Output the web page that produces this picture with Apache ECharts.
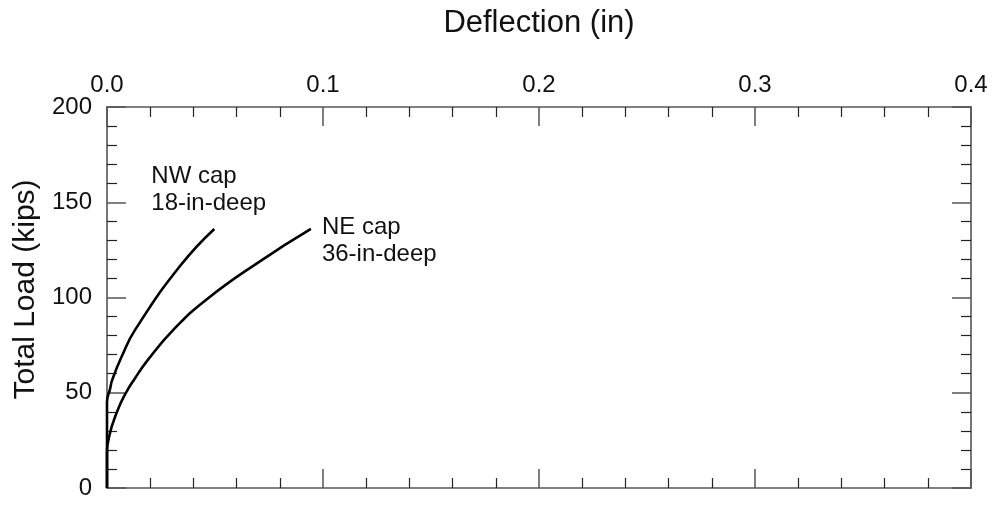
<!DOCTYPE html>
<html>
<head>
<meta charset="utf-8">
<script src="https://cdn.jsdelivr.net/npm/echarts@6/dist/echarts.min.js"></script>
<style>
  html, body { margin: 0; padding: 0; background: #fff; }
  #chart { width: 993px; height: 505px; }
</style>
</head>
<body>
<div id="chart"></div>
<script>
// Load–deflection curves for the two pile caps
const nwDeflection = [0, 0, 0.0014, 0.0025, 0.0068, 0.013, 0.0338, 0.0497];
const nwLoad       = [0, 45, 52, 57, 69, 83, 116.5, 136];
const neDeflection = [0, 0, 0.001, 0.005, 0.0088, 0.0126, 0.0191, 0.0307, 0.0461, 0.0708, 0.0944];
const neLoad       = [0, 16, 27, 41, 50, 57, 67.5, 83, 99, 119, 136];

const xTickLabels = ['0.0', '0.1', '0.2', '0.3', '0.4'];
const yTickLabels = ['0', '50', '100', '150', '200'];

const nwText = ['NW cap', '18-in-deep'];
const neText = ['NE cap', '36-in-deep'];

const FONT = '"Liberation Sans", Arial, Helvetica, sans-serif';
const AXIS_COLOR = '#555';

const toPairs = (xs, ys) => xs.map((x, i) => [x, ys[i]]);

function xAxisCfg(position, withLabels) {
  return {
    type: 'value',
    position: position,
    min: 0, max: 0.4, interval: 0.1,
    name: withLabels ? 'Deflection (in)' : '',
    nameLocation: 'middle',
    nameGap: 68,
    nameTextStyle: { fontFamily: FONT, fontSize: 31, color: '#111' },
    axisLine: { show: true, onZero: false, lineStyle: { color: AXIS_COLOR, width: 1.6 } },
    axisTick: { show: true, inside: true, length: 19, lineStyle: { color: AXIS_COLOR, width: 1.5 } },
    minorTick: { show: true, splitNumber: 5, length: 10, lineStyle: { color: '#222', width: 1.2 } },
    splitLine: { show: false },
    axisLabel: {
      show: withLabels,
      margin: 10,
      fontFamily: FONT, fontSize: 24, color: '#111',
      formatter: v => xTickLabels[Math.round(v * 10)]
    }
  };
}

function yAxisCfg(position, withLabels) {
  return {
    type: 'value',
    position: position,
    min: 0, max: 200, interval: 50,
    name: withLabels ? 'Total Load (kips)' : '',
    nameLocation: 'middle',
    nameGap: 66,
    nameTextStyle: { fontFamily: FONT, fontSize: 30, color: '#111', padding: [0, 0, 0, 16] },
    axisLine: { show: true, onZero: false, lineStyle: { color: AXIS_COLOR, width: 1.6 } },
    axisTick: { show: true, inside: true, length: 19, lineStyle: { color: AXIS_COLOR, width: 1.5 } },
    minorTick: { show: true, splitNumber: 5, length: 10, lineStyle: { color: '#222', width: 1.2 } },
    splitLine: { show: false },
    axisLabel: {
      show: withLabels,
      margin: 15,
      fontFamily: FONT, fontSize: 24, color: '#111',
      formatter: v => yTickLabels[Math.round(v / 50)]
    }
  };
}

const chart = echarts.init(document.getElementById('chart'), null, { renderer: 'canvas' });

const curveStyle = { color: '#000', width: 2.6 };

chart.setOption({
  animation: false,
  backgroundColor: '#fff',
  grid: { left: 107, right: 22, top: 107, bottom: 17, containLabel: false },
  xAxis: [xAxisCfg('top', true), xAxisCfg('bottom', false)],
  yAxis: [yAxisCfg('left', true), yAxisCfg('right', false)],
  series: [
    {
      name: 'NW cap', type: 'line', xAxisIndex: 0, yAxisIndex: 0,
      data: toPairs(nwDeflection, nwLoad),
      smooth: 0.5, showSymbol: false, symbol: 'none',
      lineStyle: curveStyle, itemStyle: { color: '#000' }
    },
    {
      name: 'NE cap', type: 'line', xAxisIndex: 0, yAxisIndex: 0,
      data: toPairs(neDeflection, neLoad),
      smooth: 0.5, showSymbol: false, symbol: 'none',
      lineStyle: curveStyle, itemStyle: { color: '#000' }
    }
  ]
});

// Place each curve's caption relative to where its curve ends
function caption(lines, endX, endY, dx, dy) {
  const p = chart.convertToPixel({ xAxisIndex: 0, yAxisIndex: 0 }, [endX, endY]);
  return {
    type: 'text',
    x: p[0] + dx, y: p[1] + dy,
    style: {
      text: lines.join('\n'),
      font: '24px ' + FONT,
      lineHeight: 27,
      fill: '#111',
      textAlign: 'left',
      textVerticalAlign: 'top'
    }
  };
}

const nwLast = nwDeflection.length - 1;
const neLast = neDeflection.length - 1;
chart.setOption({
  graphic: [
    caption(nwText, nwDeflection[nwLast], nwLoad[nwLast], -63, -66),
    caption(neText, neDeflection[neLast], neLoad[neLast], 11, -15)
  ]
});
</script>
</body>
</html>
